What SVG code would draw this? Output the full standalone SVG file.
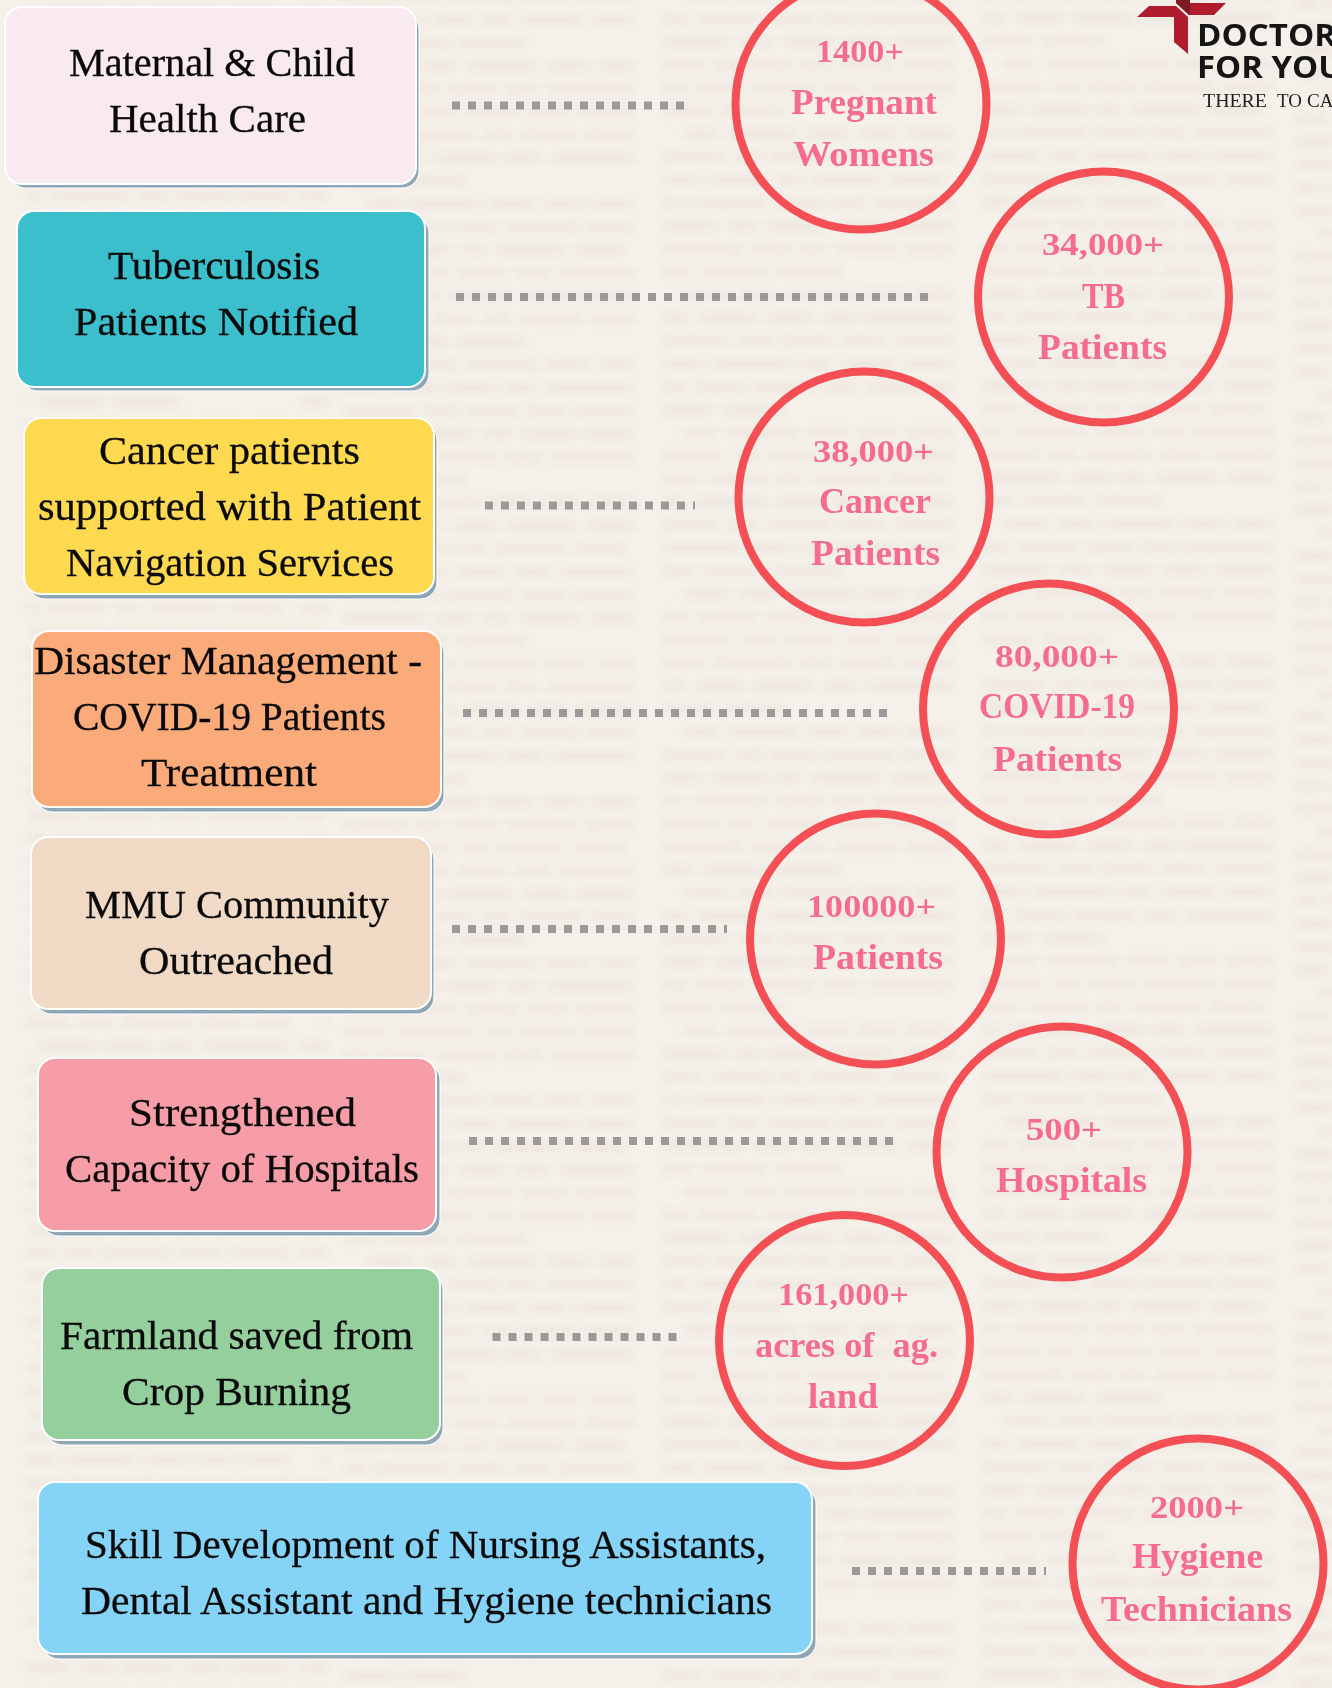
<svg xmlns="http://www.w3.org/2000/svg" width="1332" height="1688" viewBox="0 0 1332 1688">
<style>
.bx{stroke:#fff;stroke-width:2}
.sh{fill:#8fa6b5;stroke:#fff;stroke-width:1}
.t{font-family:"Liberation Serif",serif;font-size:40px;fill:#0a0a0a;stroke:#0a0a0a;stroke-width:.3px;transform:translateY(1px)}
.c{font-family:"Liberation Serif",serif;font-size:35px;font-weight:700;fill:#f56c8c}
.n{font-size:31px}
.ring{fill:none;stroke:#f34f55;stroke-width:8}
.dots{fill:none;stroke:#999;stroke-width:8;stroke-dasharray:8 8}
.lg{font-family:"Open Sans","Liberation Sans",sans-serif;font-weight:700;font-size:30px;fill:#151515}
.tg{font-family:"Liberation Serif",serif;font-size:19px;fill:#222}
</style>
<defs>
<filter id="blur" x="-5%" y="-5%" width="110%" height="110%"><feGaussianBlur stdDeviation="4"/></filter>
<pattern id="news" width="300" height="299" patternUnits="userSpaceOnUse">
<g fill="none" stroke="#d9cfc0" stroke-width="7">
<path d="M0 11H290" stroke-dasharray="38 9 60 8 25 10 70 8 52"/>
<path d="M0 34H290" stroke-dasharray="22 8 75 9 48 8 34 9 77"/>
<path d="M0 57H290" stroke-dasharray="55 10 30 8 66 9 44 9 59"/>
<path d="M0 80H290" stroke-dasharray="80 9 41 8 27 8 63 9 45"/>
<path d="M0 103H180" stroke-dasharray="31 8 64 9 68"/>
<path d="M22 126H290" stroke-dasharray="47 8 36 9 71 8 42 9 38"/>
<path d="M0 149H290" stroke-dasharray="28 9 58 8 49 9 33 8 88"/>
<path d="M0 172H290" stroke-dasharray="69 8 35 9 52 8 41 9 59"/>
<path d="M0 195H290" stroke-dasharray="43 9 78 8 29 10 55 8 50"/>
<path d="M0 218H290" stroke-dasharray="24 8 50 9 61 8 37 9 84"/>
<path d="M0 241H120" stroke-dasharray="51 9 60"/>
<path d="M22 264H290" stroke-dasharray="33 8 72 9 44 8 39 9 54"/>
<path d="M0 287H290" stroke-dasharray="62 9 28 8 47 8 70 9 49"/>
</g>
</pattern>
</defs>
<g id="background">
<rect width="1332" height="1688" fill="#f5f0ea"/>
<g filter="url(#blur)" opacity="0.3">
<rect x="27" y="0" width="300" height="1688" fill="url(#news)"/>
<g transform="translate(345 -60)"><rect width="298" height="1760" fill="url(#news)"/></g>
<g transform="translate(662 -130)"><rect width="298" height="1830" fill="url(#news)"/></g>
<g transform="translate(982 -200)"><rect width="295" height="1900" fill="url(#news)"/></g>
<g transform="translate(1297 -30)"><rect width="40" height="1730" fill="url(#news)"/></g>
</g>
</g>
<g id="connectors">
<path class="dots" d="M452 105.500H685"/>
<path class="dots" d="M456 297H928"/>
<path class="dots" d="M485 505.500H695"/>
<path class="dots" d="M463 713H888"/>
<path class="dots" d="M452 929H727"/>
<path class="dots" d="M469 1141H896"/>
<path class="dots" d="M492.500 1337H677"/>
<path class="dots" d="M852 1571H1046"/>
</g>
<g id="box-maternal">
<rect class="sh" x="9" y="12" width="410" height="176" rx="17"/><rect class="bx" x="5" y="7" width="411" height="177" rx="17" fill="#f9e9f1"/>
<text class="t" x="69" y="75" textLength="286" lengthAdjust="spacingAndGlyphs">Maternal &amp; Child</text>
<text class="t" x="109" y="131" textLength="197" lengthAdjust="spacingAndGlyphs">Health Care</text>
</g>
<g id="box-tb">
<rect class="sh" x="21" y="216" width="408" height="175" rx="17"/><rect class="bx" x="17" y="211" width="408" height="176" rx="17" fill="#3bbfcc"/>
<text class="t" x="108" y="278" textLength="212" lengthAdjust="spacingAndGlyphs">Tuberculosis</text>
<text class="t" x="74" y="334" textLength="284" lengthAdjust="spacingAndGlyphs">Patients Notified</text>
</g>
<g id="box-cancer">
<rect class="sh" x="28" y="423" width="409" height="176" rx="17"/><rect class="bx" x="24" y="418" width="410" height="176" rx="17" fill="#ffd94f"/>
<text class="t" x="99" y="463" textLength="261" lengthAdjust="spacingAndGlyphs">Cancer patients</text>
<text class="t" x="38" y="519" textLength="383" lengthAdjust="spacingAndGlyphs">supported with Patient</text>
<text class="t" x="66" y="575" textLength="328" lengthAdjust="spacingAndGlyphs">Navigation Services</text>
</g>
<g id="box-disaster">
<rect class="sh" x="36" y="636" width="408" height="176" rx="17"/><rect class="bx" x="32" y="631" width="409" height="176" rx="17" fill="#fbab7a"/>
<text class="t" x="34" y="673" textLength="388" lengthAdjust="spacingAndGlyphs">Disaster Management -</text>
<text class="t" x="73" y="729" textLength="313" lengthAdjust="spacingAndGlyphs">COVID-19 Patients</text>
<text class="t" x="141" y="785" textLength="176" lengthAdjust="spacingAndGlyphs">Treatment</text>
</g>
<g id="box-mmu">
<rect class="sh" x="35" y="842" width="399" height="172" rx="17"/><rect class="bx" x="31" y="837" width="400" height="172" rx="17" fill="#f0dac5"/>
<text class="t" x="85" y="917" textLength="304" lengthAdjust="spacingAndGlyphs">MMU Community</text>
<text class="t" x="139" y="973" textLength="194" lengthAdjust="spacingAndGlyphs">Outreached</text>
</g>
<g id="box-hospitals">
<rect class="sh" x="42" y="1063" width="398" height="173" rx="17"/><rect class="bx" x="38" y="1058" width="398" height="173" rx="17" fill="#f79da7"/>
<text class="t" x="129" y="1125" textLength="227" lengthAdjust="spacingAndGlyphs">Strengthened</text>
<text class="t" x="65" y="1181" textLength="354" lengthAdjust="spacingAndGlyphs">Capacity of Hospitals</text>
</g>
<g id="box-farmland">
<rect class="sh" x="46" y="1273" width="397" height="172" rx="17"/><rect class="bx" x="42" y="1268" width="398" height="172" rx="17" fill="#96cf9e"/>
<text class="t" x="60" y="1348" textLength="353" lengthAdjust="spacingAndGlyphs">Farmland saved from</text>
<text class="t" x="122" y="1404" textLength="229" lengthAdjust="spacingAndGlyphs">Crop Burning</text>
</g>
<g id="box-skill">
<rect class="sh" x="42" y="1487" width="774" height="172" rx="17"/><rect class="bx" x="38" y="1482" width="774" height="172" rx="17" fill="#85d3f7"/>
<text class="t" x="85" y="1557" textLength="681" lengthAdjust="spacingAndGlyphs">Skill Development of Nursing Assistants,</text>
<text class="t" x="81" y="1613" textLength="691" lengthAdjust="spacingAndGlyphs">Dental Assistant and Hygiene technicians</text>
</g>
<g id="stat-pregnant">
<circle class="ring" cx="861" cy="104" r="125.500"/>
<text class="c n" x="816" y="62" textLength="88" lengthAdjust="spacingAndGlyphs">1400+</text>
<text class="c" x="791" y="114" textLength="146" lengthAdjust="spacingAndGlyphs">Pregnant</text>
<text class="c" x="793" y="166" textLength="141" lengthAdjust="spacingAndGlyphs">Womens</text>
</g>
<g id="stat-tb">
<circle class="ring" cx="1103.500" cy="297" r="125.500"/>
<text class="c n" x="1042" y="255" textLength="122" lengthAdjust="spacingAndGlyphs">34,000+</text>
<text class="c" x="1082" y="308" textLength="43" lengthAdjust="spacingAndGlyphs">TB</text>
<text class="c" x="1038" y="359" textLength="129" lengthAdjust="spacingAndGlyphs">Patients</text>
</g>
<g id="stat-cancer">
<circle class="ring" cx="864" cy="497" r="125.500"/>
<text class="c n" x="813" y="462" textLength="121" lengthAdjust="spacingAndGlyphs">38,000+</text>
<text class="c" x="819" y="513" textLength="112" lengthAdjust="spacingAndGlyphs">Cancer</text>
<text class="c" x="811" y="565" textLength="129" lengthAdjust="spacingAndGlyphs">Patients</text>
</g>
<g id="stat-covid">
<circle class="ring" cx="1048.500" cy="709" r="125.500"/>
<text class="c n" x="995" y="667" textLength="124" lengthAdjust="spacingAndGlyphs">80,000+</text>
<text class="c" x="979" y="718" textLength="156" lengthAdjust="spacingAndGlyphs">COVID-19</text>
<text class="c" x="993" y="771" textLength="129" lengthAdjust="spacingAndGlyphs">Patients</text>
</g>
<g id="stat-mmu">
<circle class="ring" cx="875.500" cy="939" r="125.500"/>
<text class="c n" x="807" y="917" textLength="129" lengthAdjust="spacingAndGlyphs">100000+</text>
<text class="c" x="813" y="969" textLength="130" lengthAdjust="spacingAndGlyphs">Patients</text>
</g>
<g id="stat-hospitals">
<circle class="ring" cx="1062" cy="1152" r="125.500"/>
<text class="c n" x="1026" y="1140" textLength="76" lengthAdjust="spacingAndGlyphs">500+</text>
<text class="c" x="996" y="1192" textLength="151" lengthAdjust="spacingAndGlyphs">Hospitals</text>
</g>
<g id="stat-farmland">
<circle class="ring" cx="844.500" cy="1340.500" r="125.500"/>
<text class="c n" x="778" y="1305" textLength="131" lengthAdjust="spacingAndGlyphs">161,000+</text>
<text class="c" x="755" y="1357" textLength="183" lengthAdjust="spacingAndGlyphs" xml:space="preserve">acres of  ag.</text>
<text class="c" x="808" y="1408" textLength="70" lengthAdjust="spacingAndGlyphs">land</text>
</g>
<g id="stat-hygiene">
<circle class="ring" cx="1198" cy="1564" r="125.500"/>
<text class="c n" x="1150" y="1518" textLength="94" lengthAdjust="spacingAndGlyphs">2000+</text>
<text class="c" x="1132" y="1568" textLength="131" lengthAdjust="spacingAndGlyphs">Hygiene</text>
<text class="c" x="1101" y="1621" textLength="191" lengthAdjust="spacingAndGlyphs">Technicians</text>
</g>
<g id="logo">
<polygon points="1137,17 1149,6 1176,6 1188,17 1188,54 1174,42 1174,17" fill="#b01c2e"/>
<polygon points="1176,3 1226,3 1214,15 1189,15" fill="#b01c2e"/>
<polygon points="1176,0 1190,0 1190,15 1189,15 1176,3" fill="#7d1a26"/>
<text class="lg" x="1197" y="46" textLength="139" lengthAdjust="spacingAndGlyphs">DOCTOR</text>
<text class="lg" x="1197" y="78" textLength="146" lengthAdjust="spacingAndGlyphs">FOR YOU</text>
<text class="tg" x="1203" y="107"><tspan textLength="64" lengthAdjust="spacingAndGlyphs">THERE</tspan><tspan x="1277">TO</tspan><tspan x="1307">CA</tspan></text>
</g>
</svg>
